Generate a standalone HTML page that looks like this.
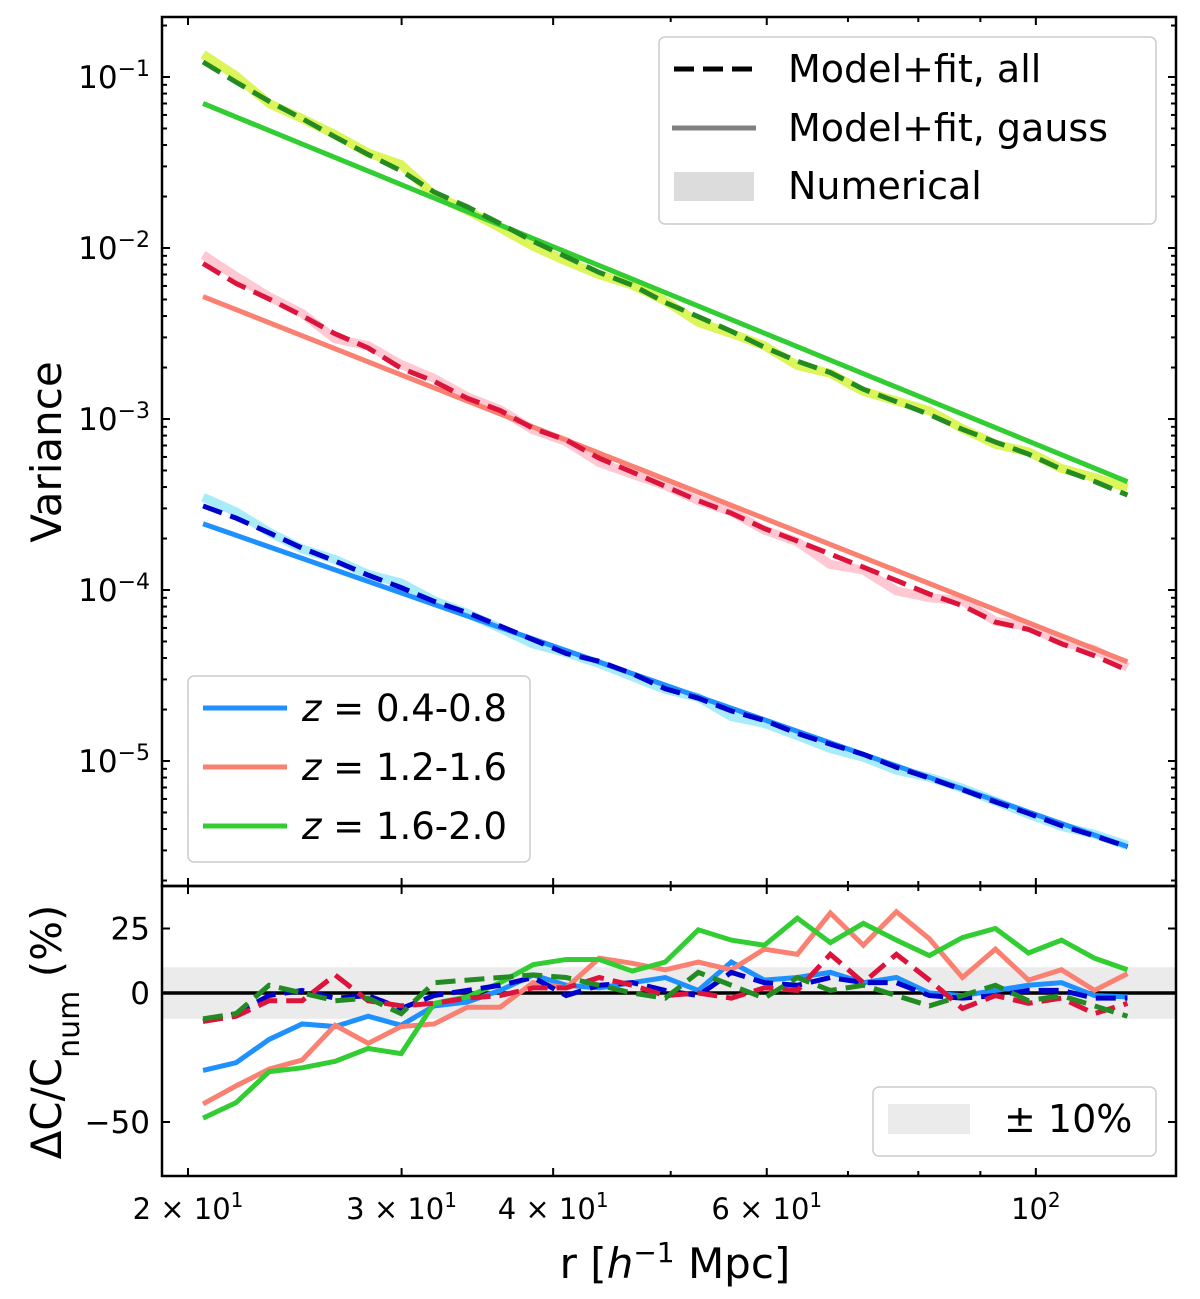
<!DOCTYPE html>
<html><head><meta charset="utf-8"><style>
html,body{margin:0;padding:0;background:#fff;}
svg{display:block;font-family:"DejaVu Sans","Liberation Sans",sans-serif;}
</style></head><body>
<svg id="chart" width="1200" height="1299" viewBox="0 0 1200 1299" xmlns="http://www.w3.org/2000/svg"></svg>
<script>
// ---- data ----
const binCount = 29;
const rMin = 20.58, rMax = 119;
const seriesLabels = ["0.4-0.8", "1.2-1.6", "1.6-2.0"];
// power-law gauss model values at rMin and rMax
const gaussStart = [2.44e-4, 5.2e-3, 7.0e-2];
const gaussEnd   = [3.16e-6, 3.8e-5, 4.3e-4];
// residuals ΔC/C_num (%) gauss model
const resGaussBlue  = [-30,-27,-18,-12,-13,-9,-12.5,-5,-3.5,1,7,3,2,4,6,1,12,5,6,8,4,6,0,-1,1,3,4,-1,-1.5];
const resGaussRed   = [-43,-36,-29.5,-26,-12.5,-19.5,-13,-12,-5.5,-5.5,4,2,13.5,11.5,9,12,9,17,15,31,18.5,31.5,21,6,17,5,9,1,7.5];
const resGaussGreen = [-48.5,-42.5,-30.5,-29,-26.5,-21.5,-23.5,-4,-1.5,4,11,13,13,8.5,12,24.5,20.5,18.5,29,19.5,27,20.5,14.5,21.5,25,15.5,20.5,13.5,9];
// residuals all model
const resAllBlue  = [-11,-8,-1,1,-2,-1,-6,-1,1,3,6,-1,3,4,1,-1,8,4,3,6,4,4,-1,-2,-1,1,1,-2,-2];
const resAllRed   = [-11,-9,-3,-3,7,-3,-5,-4,-2,-1,2,2,6,3,-1,0,-2,2,1,15,4,15,5,-6,-1,-4,-2,-8,-4];
const resAllGreen = [-10,-8,3,0,-3,-2,-8,4,5,6,7,6,3,0,-2,8,3,-2,6,1,3,-1,-5,-1,3,-3,-1,-5,-9];
const yTopTicks = [-1,-2,-3,-4,-5];
const yBotTicks = [25,0,-50];
const xTickVals = [20,30,40,60,100];
const xTickLabels = ["2 × 10<tspan baseline-shift='super' font-size='20'>1</tspan>","3 × 10<tspan baseline-shift='super' font-size='20'>1</tspan>","4 × 10<tspan baseline-shift='super' font-size='20'>1</tspan>","6 × 10<tspan baseline-shift='super' font-size='20'>1</tspan>","10<tspan baseline-shift='super' font-size='20'>2</tspan>"];

// ---- layout ----
const L=162,R=1176,T1=17,B1=886,T2=886,B2=1176;
const xs = r => 188 + 1213*Math.log10(r/20);
const yTop = v => 77 - 171*(Math.log10(v)+1);
const yBot = p => 993 - 2.58*p;
const NS="http://www.w3.org/2000/svg";
const svg=document.getElementById('chart');
function mk(tag,attrs,parent){const e=document.createElementNS(NS,tag);for(const k in attrs)e.setAttribute(k,attrs[k]);(parent||svg).appendChild(e);return e;}

const rs=[];for(let i=0;i<binCount;i++)rs.push(rMin*Math.pow(rMax/rMin,i/(binCount-1)));
function pl(s,e,r){const sl=Math.log(e/s)/Math.log(rMax/rMin);return s*Math.pow(r/rMin,sl);}

const solidCols=["#1e90ff","#fa8072","#32cd32"];
const dashCols=["#0000cd","#dc143c","#228b22"];
const numCols=["#a8ecfa","#ffc8d2","#dcf55a"];
const resG=[resGaussBlue,resGaussRed,resGaussGreen];
const resA=[resAllBlue,resAllRed,resAllGreen];
const names=["blue","red","green"];
const DASH='20,9';

const defs=mk('defs',{});
const c1=mk('clipPath',{id:'c1'},defs);mk('rect',{x:L,y:T1,width:R-L,height:B1-T1},c1);
const c2=mk('clipPath',{id:'c2'},defs);mk('rect',{x:L,y:T2,width:R-L,height:B2-T2},c2);

// ----- top panel -----
const gTop=mk('g',{'clip-path':'url(#c1)'});


const numVals=[0,1,2].map(s=>rs.map((r,i)=>pl(gaussStart[s],gaussEnd[s],r)/(1+resG[s][i]/100)));
for(let s=0;s<3;s++){
  const n=mk('polyline',{points:rs.map((r,i)=>xs(r)+','+yTop(numVals[s][i])).join(' '),fill:'none',stroke:numCols[s],'stroke-width':9,'stroke-linejoin':'round'},gTop);
  
  
}
for(let s=0;s<3;s++){
  const g=mk('line',{x1:xs(rMin),y1:yTop(gaussStart[s]),x2:xs(rMax),y2:yTop(gaussEnd[s]),stroke:solidCols[s],'stroke-width':5},gTop);
  
  
  const a=mk('polyline',{points:rs.map((r,i)=>xs(r)+','+yTop(numVals[s][i]*(1+resA[s][i]/100))).join(' '),fill:'none',stroke:dashCols[s],'stroke-width':5,'stroke-dasharray':DASH},gTop);
  
  
}

// ----- bottom panel -----
const gBot=mk('g',{'clip-path':'url(#c2)'});


const band=mk('rect',{x:L,y:yBot(10),width:R-L,height:yBot(-10)-yBot(10),fill:'#ebebeb'},gBot);


const zl=mk('line',{x1:L,x2:R,y1:yBot(0),y2:yBot(0),stroke:'#000','stroke-width':3.5},gBot);


for(let s=0;s<3;s++){
  const p=mk('polyline',{points:rs.map((r,i)=>xs(r)+','+yBot(resG[s][i])).join(' '),fill:'none',stroke:solidCols[s],'stroke-width':5},gBot);
  
  
}
for(let s=0;s<3;s++){
  const p=mk('polyline',{points:rs.map((r,i)=>xs(r)+','+yBot(resA[s][i])).join(' '),fill:'none',stroke:dashCols[s],'stroke-width':5,'stroke-dasharray':DASH},gBot);
  
  
}

// ----- frames & ticks -----
const frame1=mk('rect',{x:L,y:T1,width:R-L,height:B1-T1,fill:'none',stroke:'#000','stroke-width':2.5});

const frame2=mk('rect',{x:L,y:T2,width:R-L,height:B2-T2,fill:'none',stroke:'#000','stroke-width':2.5});

const tk=mk('g',{stroke:'#000','stroke-width':2});

function tick(x1,y1,x2,y2){mk('line',{x1,y1,x2,y2},tk);}
const minorX=[50,70,80,90];
[[T1,B1],[T2,B2]].forEach(([t,b])=>{
  xTickVals.forEach(v=>{const x=xs(v);tick(x,t,x,t+8);tick(x,b,x,b-8);});
  minorX.forEach(v=>{const x=xs(v);tick(x,t,x,t+5);tick(x,b,x,b-5);});
});
for(let d=-6;d<=0;d++){
  for(let m=1;m<10;m++){
    const v=m*Math.pow(10,d);const y=yTop(v);
    if(y<T1||y>B1)continue;
    const len=m===1?8:5;tick(L,y,L+len,y);tick(R,y,R-len,y);
  }
}
yBotTicks.forEach(v=>{const y=yBot(v);tick(L,y,L+8,y);tick(R,y,R-8,y);});

// labels
const lab=mk('g',{fill:'#000'});
yTopTicks.forEach(d=>{
  const t=mk('text',{x:L-12,y:yTop(Math.pow(10,d))+11,'text-anchor':'end','font-size':31},lab);
  t.innerHTML="10<tspan baseline-shift='super' font-size='22'>−"+(-d)+"</tspan>";
  
});
yBotTicks.forEach(v=>{
  const t=mk('text',{x:L-12,y:yBot(v)+11,'text-anchor':'end','font-size':31},lab);
  t.textContent=v<0?'−'+(-v):String(v);
  
});
xTickVals.forEach((v,i)=>{
  const t=mk('text',{x:xs(v),y:1219,'text-anchor':'middle','font-size':29},lab);
  t.innerHTML=xTickLabels[i];
  
});
const xl=mk('text',{x:675,y:1278,'text-anchor':'middle','font-size':42},lab);
xl.innerHTML="r [<tspan font-style='italic'>h</tspan><tspan baseline-shift='super' font-size='28'>−1</tspan> Mpc]";

const yl=mk('text',{x:0,y:0,'text-anchor':'middle','font-size':42,transform:'translate(61,452) rotate(-90)'},lab);
yl.textContent='Variance';

const yl2=mk('text',{x:0,y:0,'text-anchor':'middle','font-size':42,transform:'translate(61,1032) rotate(-90)'},lab);
yl2.innerHTML="ΔC/C<tspan baseline-shift='sub' font-size='30'>num</tspan> (%)";


// legend 1
const lg1=mk('g',{});

mk('rect',{x:659,y:37,width:497,height:187,rx:6,fill:'#fff',stroke:'#ccc','stroke-width':1.5},lg1);
mk('line',{x1:674,x2:756,y1:69,y2:69,stroke:'#000','stroke-width':5,'stroke-dasharray':DASH},lg1);
mk('line',{x1:672,x2:756,y1:128,y2:128,stroke:'#808080','stroke-width':5},lg1);
mk('rect',{x:674,y:172,width:80,height:29,fill:'#dcdcdc'},lg1);
[['Model+fit, all',82],['Model+fit, gauss',141],['Numerical',199]].forEach(([s,y])=>{
  const t=mk('text',{x:788,y,'font-size':38},lg1);t.textContent=s;
  
});
// legend 2
const lg2=mk('g',{});

mk('rect',{x:188,y:676,width:342,height:186,rx:6,fill:'#fff',stroke:'#ccc','stroke-width':1.5},lg2);
seriesLabels.forEach((s,i)=>{
  const y=708+59*i;
  mk('line',{x1:203,x2:287,y1:y,y2:y,stroke:solidCols[i],'stroke-width':5},lg2);
  const t=mk('text',{x:302,y:y+13,'font-size':37},lg2);
  t.innerHTML="<tspan font-style='italic'>z</tspan> = "+s;
  
});
// legend 3
const lg3=mk('g',{});

mk('rect',{x:873,y:1087,width:283,height:69,rx:6,fill:'#fff',stroke:'#ccc','stroke-width':1.5},lg3);
mk('rect',{x:888,y:1104,width:82,height:30,fill:'#ebebeb'},lg3);
const t3=mk('text',{x:1004,y:1132,'font-size':38},lg3);t3.textContent='± 10%';

</script>
</body></html>
